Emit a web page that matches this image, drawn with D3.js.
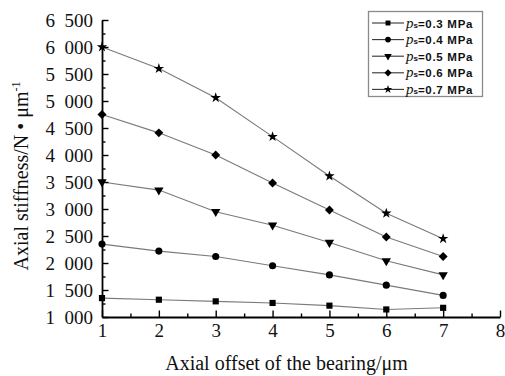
<!DOCTYPE html>
<html>
<head>
<meta charset="utf-8">
<script src="https://cdn.jsdelivr.net/npm/d3@7"></script>
<style>
  html, body { margin: 0; padding: 0; background: #fff; }
  svg { display: block; }
</style>
</head>
<body>
<svg id="chart" width="505" height="376"></svg>
<script>
// Axial offset of the bearing (μm)
const offsets = [1, 2, 3, 4, 5, 6, 7];

// Supply pressure for each curve (MPa)
const pressures = ["0.3", "0.4", "0.5", "0.6", "0.7"];

// Axial stiffness (N/μm) for each supply pressure
const stiff03 = [1350, 1320, 1290, 1260, 1210, 1140, 1170];
const stiff04 = [2350, 2220, 2120, 1950, 1780, 1590, 1400];
const stiff05 = [3500, 3350, 2950, 2700, 2380, 2040, 1780];
const stiff06 = [4750, 4410, 4000, 3480, 2980, 2480, 2120];
const stiff07 = [6000, 5600, 5060, 4340, 3610, 2920, 2450];

// Axis ticks
const xTicks = [1, 2, 3, 4, 5, 6, 7, 8];
const yTicks = [1000, 1500, 2000, 2500, 3000, 3500, 4000, 4500, 5000, 5500, 6000, 6500];
const yTickLabels = ["1 000", "1 500", "2 000", "2 500", "3 000", "3 500",
                     "4 000", "4 500", "5 000", "5 500", "6 000", "6 500"];

const seriesValues = [stiff03, stiff04, stiff05, stiff06, stiff07];
const markerKinds = ["square", "circle", "triangleDown", "diamond", "star"];

const svg = d3.select("#chart");
const W = 505, H = 376;
const margin = { left: 102, right: 5, top: 20, bottom: 59 };

const x = d3.scaleLinear().domain([1, 8]).range([margin.left, W - margin.right]);
const y = d3.scaleLinear().domain([1000, 6500]).range([H - margin.bottom, margin.top]);

const serif = "'Liberation Serif', 'Times New Roman', serif";
const sans = "'Liberation Sans', Arial, sans-serif";

// marker path generator; scale k shrinks legend symbols
function markerPath(kind, k) {
  switch (kind) {
    case "square": return d3.symbol(d3.symbolSquare, 38 * k * k)();
    case "circle": return d3.symbol(d3.symbolCircle, 40 * k * k)();
    case "triangleDown": return d3.symbol(d3.symbolTriangle, 38 * k * k)();
    case "diamond": return d3.symbol(d3.symbolSquare, 40 * k * k)();
    case "star": return d3.symbol(d3.symbolStar, 34 * k * k)();
  }
}
function markerRotation(kind) {
  if (kind === "triangleDown") return 180;
  if (kind === "diamond") return 45;
  return 0;
}

// connecting lines
const line = d3.line().x((d, i) => x(offsets[i])).y(d => y(d));

const plot = svg.append("g");
seriesValues.forEach((vals, si) => {
  plot.append("path")
    .datum(vals)
    .attr("d", line)
    .attr("fill", "none")
    .attr("stroke", "#7a7a7a")
    .attr("stroke-width", 1.1);
});
seriesValues.forEach((vals, si) => {
  const kind = markerKinds[si];
  plot.selectAll(null)
    .data(vals)
    .join("path")
    .attr("d", markerPath(kind, 1))
    .attr("transform", (d, i) => `translate(${x(offsets[i])},${y(d)}) rotate(${markerRotation(kind)})`)
    .attr("fill", "#000");
});

// minor ticks
const yMinor = d3.range(1250, 6500, 500);
const xMinor = d3.range(1.5, 8, 1);

svg.append("g")
  .attr("transform", `translate(${margin.left},0)`)
  .call(d3.axisLeft(y).tickValues(yMinor).tickSize(-3.5).tickFormat(""))
  .call(g => g.select(".domain").remove())
  .call(g => g.selectAll("line").attr("stroke", "#000").attr("stroke-width", 1.4));

svg.append("g")
  .attr("transform", `translate(0,${H - margin.bottom})`)
  .call(d3.axisBottom(x).tickValues(xMinor).tickSize(-3.5).tickFormat(""))
  .call(g => g.select(".domain").remove())
  .call(g => g.selectAll("line").attr("stroke", "#000").attr("stroke-width", 1.4));

// major axes
const yAxis = svg.append("g")
  .attr("transform", `translate(${margin.left},0)`)
  .call(d3.axisLeft(y).tickValues(yTicks).tickSize(-6.5).tickSizeOuter(0)
        .tickPadding(9).tickFormat((d, i) => yTickLabels[i].replace(" ", "\u2002")));
yAxis.select(".domain").attr("stroke", "#000").attr("stroke-width", 1.8);
yAxis.selectAll("line").attr("stroke", "#000").attr("stroke-width", 1.4);
yAxis.selectAll("text").attr("font-family", serif).attr("font-size", 19).attr("fill", "#111");

const xAxis = svg.append("g")
  .attr("transform", `translate(0,${H - margin.bottom})`)
  .call(d3.axisBottom(x).tickValues(xTicks).tickSize(-6.5).tickSizeOuter(0)
        .tickPadding(6.5).tickFormat(d3.format("d")));
xAxis.select(".domain").attr("stroke", "#000").attr("stroke-width", 1.8);
xAxis.selectAll("line").attr("stroke", "#000").attr("stroke-width", 1.4);
xAxis.selectAll("text").attr("font-family", serif).attr("font-size", 19).attr("fill", "#111");

// axis titles
svg.append("text")
  .attr("x", 286.5).attr("y", 370)
  .attr("text-anchor", "middle")
  .attr("font-family", serif).attr("font-size", 20).attr("fill", "#111")
  .text("Axial offset of the bearing/μm");

const yTitle = svg.append("text")
  .attr("transform", "translate(28,176) rotate(-90)")
  .attr("text-anchor", "middle")
  .attr("font-family", serif).attr("font-size", 20).attr("fill", "#111");
yTitle.append("tspan").text("Axial stiffness/N \u2022 μm");
yTitle.append("tspan").attr("font-size", 12).attr("dy", -8).text("-1");

// legend
const legend = svg.append("g");
legend.append("rect")
  .attr("x", 368.5).attr("y", 11.5).attr("width", 114).attr("height", 85)
  .attr("fill", "#fff").attr("stroke", "#8a8a8a").attr("stroke-width", 1.3);

pressures.forEach((p, i) => {
  const ry = 23 + i * 16.6;
  const row = legend.append("g");
  row.append("line")
    .attr("x1", 372).attr("x2", 404).attr("y1", ry).attr("y2", ry)
    .attr("stroke", "#333").attr("stroke-width", 1.1);
  row.append("path")
    .attr("d", markerPath(markerKinds[i], 0.8))
    .attr("transform", `translate(388,${ry}) rotate(${markerRotation(markerKinds[i])})`)
    .attr("fill", "#000");
  const t = row.append("text")
    .attr("x", 406).attr("y", ry + 4.6)
    .attr("fill", "#111");
  t.append("tspan")
    .attr("font-family", serif).attr("font-style", "italic").attr("font-size", 15)
    .text("p");
  t.append("tspan")
    .attr("font-family", sans).attr("font-weight", "bold").attr("font-size", 8)
    .attr("dy", 0).text("s");
  t.append("tspan")
    .attr("font-family", sans).attr("font-weight", "bold").attr("font-size", 11.5)
    .attr("letter-spacing", 0.7)
    .text(`=${p} MPa`);
});
</script>
</body>
</html>
